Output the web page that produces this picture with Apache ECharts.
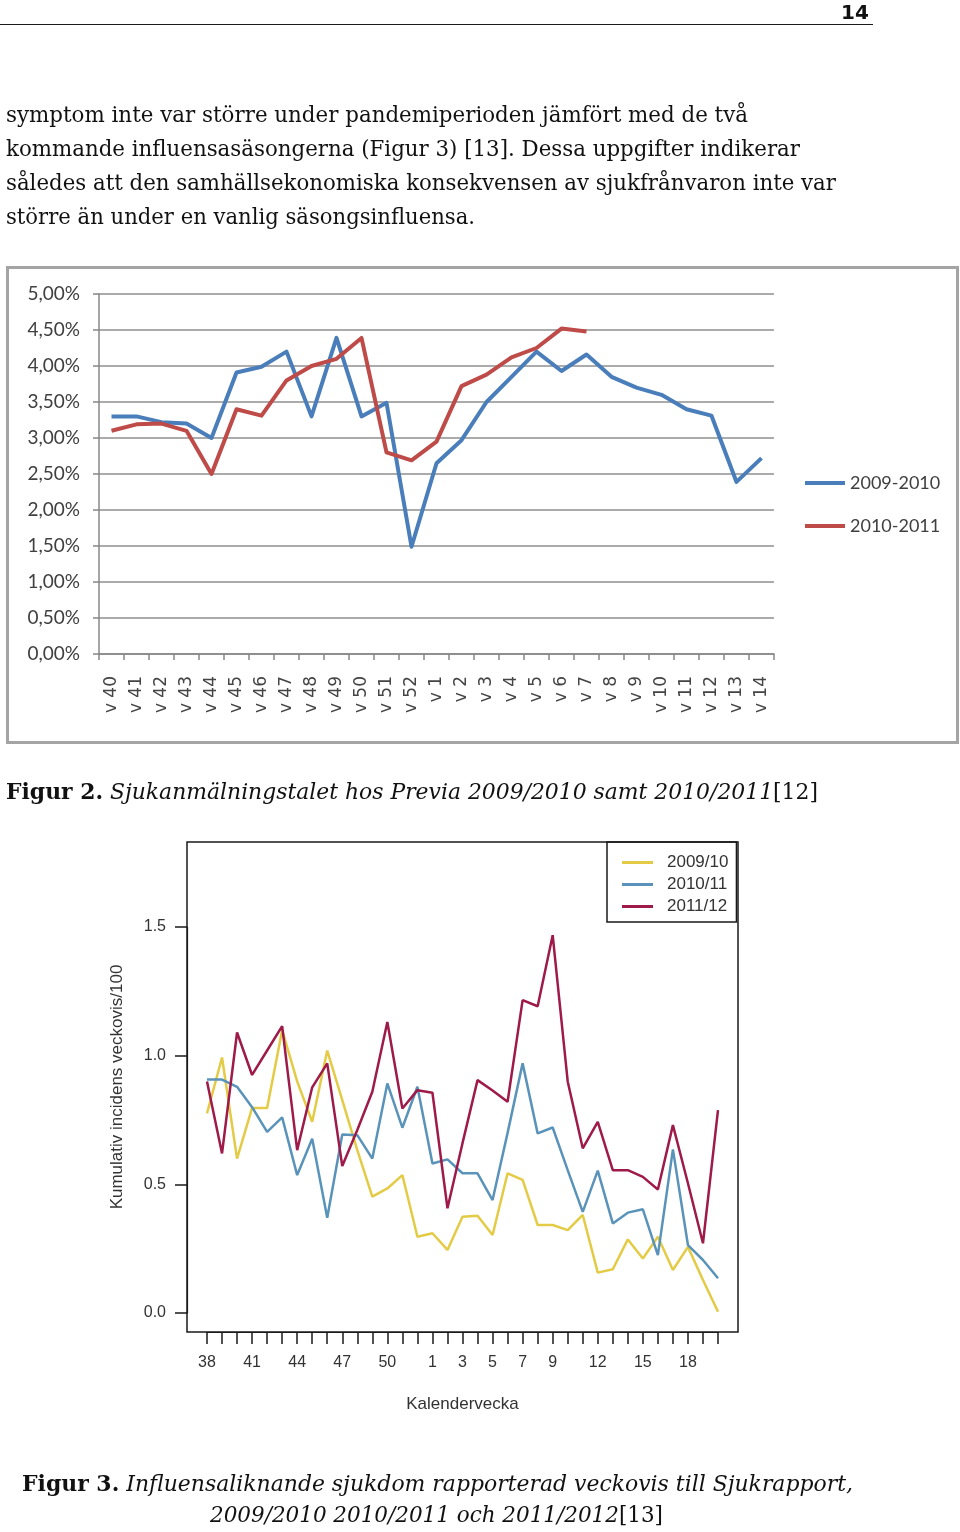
<!DOCTYPE html>
<html>
<head>
<meta charset="utf-8">
<script src="https://cdn.jsdelivr.net/npm/echarts@6/dist/echarts.min.js"></script>
<style>
html,body{margin:0;padding:0;background:#fff;}
#page{position:relative;width:960px;height:1532px;overflow:hidden;background:#fff;}
#chart{position:absolute;left:0;top:0;width:960px;height:1532px;}
.t{position:absolute;white-space:nowrap;font-family:"DejaVu Serif",serif;color:#111;font-size:22px;line-height:34px;}
</style>
</head>
<body>
<div id="page">
  <div id="chart"></div>
  <div style="position:absolute;left:0;top:24px;width:873px;border-top:1.6px solid #1a1a1a;"></div>
  <div class="t" style="left:841px;top:0px;font-family:'DejaVu Sans',sans-serif;font-weight:bold;font-size:20px;line-height:24px;">14</div>

  <div class="t" data-w="742" style="left:6px;top:98px;">symptom inte var större under pandemiperioden jämfört med de två</div>
  <div class="t" data-w="794" style="left:6px;top:132px;">kommande influensasäsongerna (Figur 3) [13]. Dessa uppgifter indikerar</div>
  <div class="t" data-w="830" style="left:6px;top:166px;">således att den samhällsekonomiska konsekvensen av sjukfrånvaron inte var</div>
  <div class="t" data-w="469" style="left:6px;top:200px;">större än under en vanlig säsongsinfluensa.</div>

  <div class="t" data-w="812" style="left:6px;top:774px;"><b>Figur 2.</b> <i>Sjukanmälningstalet hos Previa 2009/2010 samt 2010/2011</i>[12]</div>

  <div class="t" data-w="831" style="left:22px;top:1466px;"><b>Figur 3.</b> <i>Influensaliknande sjukdom rapporterad veckovis till Sjukrapport,</i></div>
  <div class="t" data-w="453" style="left:210px;top:1498px;"><i>2009/2010 2010/2011 och 2011/2012</i>[13]</div>
</div>
<script>
// ---------- Figur 2: sick-leave rate (Previa) ----------
const weeksTop = ['v 40','v 41','v 42','v 43','v 44','v 45','v 46','v 47','v 48','v 49','v 50','v 51','v 52',
  'v 1','v 2','v 3','v 4','v 5','v 6','v 7','v 8','v 9','v 10','v 11','v 12','v 13','v 14'];
const sick2009_2010 = [3.3,3.3,3.22,3.2,3.0,3.91,3.99,4.2,3.3,4.39,3.3,3.49,1.49,
  2.65,2.97,3.5,3.85,4.2,3.93,4.16,3.85,3.7,3.6,3.4,3.31,2.39,2.72];
const sick2010_2011 = [3.1,3.19,3.2,3.1,2.5,3.4,3.31,3.8,4.0,4.1,4.39,2.8,2.69,
  2.95,3.72,3.88,4.12,4.25,4.52,4.48,null,null,null,null,null,null,null];
const namesTop = ['2009-2010','2010-2011'];

// ---------- Figur 3: ILI incidence (Sjukrapport) ----------
const weeksBottom = ['38','39','40','41','42','43','44','45','46','47','48','49','50','51','52',
  '1','2','3','4','5','6','7','8','9','10','11','12','13','14','15','16','17','18','19','20'];
const shownWeekLabels = ['38','41','44','47','50','1','3','5','7','9','12','15','18'];
const ili2009_10 = [0.776,0.993,0.60,0.797,0.797,1.099,0.90,0.743,1.02,0.827,0.633,0.452,0.484,0.536,0.296,
  0.31,0.245,0.374,0.378,0.303,0.543,0.517,0.342,0.342,0.322,0.381,0.157,0.17,0.286,0.212,0.296,0.167,0.257,0.128,0.005];
const ili2010_11 = [0.907,0.907,0.879,0.80,0.704,0.76,0.536,0.677,0.37,0.694,0.691,0.60,0.892,0.72,0.879,
  0.581,0.597,0.543,0.543,0.439,0.70,0.97,0.698,0.721,0.555,0.393,0.553,0.348,0.39,0.403,0.225,0.636,0.264,0.206,0.135];
const ili2011_12 = [0.90,0.62,1.09,0.925,1.02,1.115,0.633,0.877,0.97,0.571,0.711,0.86,1.131,0.795,0.866,
  0.856,0.407,0.66,0.905,0.865,0.821,1.216,1.192,1.468,0.90,0.64,0.743,0.555,0.555,0.529,0.48,0.73,0.504,0.271,0.788];
const namesBottom = ['2009/10','2010/11','2011/12'];

// fit text lines to reference widths
document.querySelectorAll('[data-w]').forEach(el => {
  const w = el.getBoundingClientRect().width;
  el.style.transformOrigin = '0 50%';
  el.style.transform = 'scaleX(' + (+el.dataset.w / w) + ')';
});

const chart = echarts.init(document.getElementById('chart'), null, {renderer:'canvas'});
const gray = '#878787';
const dark = '#1a1a1a';
const sansR = 'Liberation Sans';
const option = {
  animation: false,
  backgroundColor: 'transparent',
  graphic: [{
    type: 'rect', z: -10,
    shape: {x: 7.5, y: 267.5, width: 950, height: 475},
    style: {fill: '#fff', stroke: '#a4a4a4', lineWidth: 3}
  }],
  grid: [
    // 0: Figur 2 plot
    {left: 99, top: 294, width: 675, height: 360},
    // 1: Figur 3 frame box
    {left: 187, top: 842, width: 551, height: 490, show: true, borderColor: dark, borderWidth: 1.5, backgroundColor: 'transparent'},
    // 2: Figur 3 data area (y from 0 to 1.5)
    {left: 207, top: 927, width: 511, height: 386},
    // 3: Figur 3 week-axis band (same x span, bottom at frame)
    {left: 207, top: 842, width: 511, height: 490}
  ],
  legend: [
    {
      data: namesTop, orient: 'vertical', left: 805, top: 473,
      itemWidth: 40, itemHeight: 4, icon: 'rect', itemGap: 23, padding: 0,
      textStyle: {fontFamily: 'Lato', fontSize: 18, lineHeight: 20, color: '#404040'}
    },
    {
      data: namesBottom, orient: 'vertical', left: 607, top: 842,
      padding: [12, 8, 7, 15], borderColor: dark, borderWidth: 1.5,
      itemWidth: 31, itemHeight: 3, icon: 'rect', itemGap: 5,
      textStyle: {fontFamily: sansR, fontSize: 17, lineHeight: 16, color: '#333', padding: [0, 0, 0, 9]}
    }
  ],
  xAxis: [
    {
      gridIndex: 0, type: 'category', data: weeksTop, boundaryGap: true,
      axisLine: {lineStyle: {color: gray, width: 1.5}},
      axisTick: {show: true, inside: false, length: 6, interval: 0, lineStyle: {color: gray, width: 1.5}},
      axisLabel: {interval: 0, rotate: 90, margin: 22, fontFamily: 'DejaVu Sans', fontSize: 17, color: '#444'},
      splitLine: {show: false}
    },
    {
      gridIndex: 1, type: 'value', min: 0, max: 1,
      axisLine: {show: false}, axisTick: {show: false}, axisLabel: {show: false}, splitLine: {show: false},
      name: 'Kalendervecka', nameLocation: 'middle', nameGap: 64,
      nameTextStyle: {fontFamily: sansR, fontSize: 17, color: '#333'}
    },
    {gridIndex: 2, type: 'category', data: weeksBottom, boundaryGap: false, show: false},
    {
      gridIndex: 3, type: 'category', data: weeksBottom, boundaryGap: false, position: 'bottom',
      axisLine: {show: true, lineStyle: {color: dark, width: 1.2}},
      axisTick: {show: true, inside: false, length: 12, interval: 0, lineStyle: {color: dark, width: 1.5}},
      axisLabel: {interval: (i, v) => shownWeekLabels.includes(v), margin: 23, fontFamily: sansR, fontSize: 16, color: '#333'},
      splitLine: {show: false}
    }
  ],
  yAxis: [
    {
      gridIndex: 0, type: 'value', min: 0, max: 5, interval: 0.5,
      axisLine: {show: true, lineStyle: {color: gray, width: 1.5}},
      axisTick: {show: true, length: 6, lineStyle: {color: gray, width: 1.5}},
      splitLine: {show: true, lineStyle: {color: '#8f8f8f', width: 1.5}},
      axisLabel: {formatter: v => v.toFixed(2).replace('.', ',') + '%', margin: 19, fontFamily: 'Lato', fontSize: 19, color: '#404040'}
    },
    {
      gridIndex: 1, type: 'value', min: 0, max: 1,
      axisLine: {show: false}, axisTick: {show: false}, axisLabel: {show: false}, splitLine: {show: false},
      name: 'Kumulativ incidens veckovis/100', nameLocation: 'middle', nameGap: 61, nameRotate: 90,
      nameTextStyle: {fontFamily: sansR, fontSize: 17, color: '#333'}
    },
    {
      gridIndex: 2, type: 'value', min: 0, max: 1.5, interval: 0.5, offset: 20,
      axisLine: {show: true, lineStyle: {color: dark, width: 1.2}},
      axisTick: {show: true, inside: false, length: 12, lineStyle: {color: dark, width: 1.5}},
      splitLine: {show: false},
      axisLabel: {formatter: v => v.toFixed(1), margin: 21, fontFamily: sansR, fontSize: 16, color: '#333'}
    },
    {gridIndex: 3, type: 'value', show: false, min: 0, max: 1}
  ],
  series: [
    {name: namesTop[0], type: 'line', xAxisIndex: 0, yAxisIndex: 0, data: sick2009_2010, symbol: 'none',
      lineStyle: {width: 4, color: '#4A7EBB', join: 'round'}, itemStyle: {color: '#4A7EBB'}},
    {name: namesTop[1], type: 'line', xAxisIndex: 0, yAxisIndex: 0, data: sick2010_2011, symbol: 'none',
      lineStyle: {width: 4, color: '#BE4B48', join: 'round'}, itemStyle: {color: '#BE4B48'}},
    {name: namesBottom[0], type: 'line', xAxisIndex: 2, yAxisIndex: 2, data: ili2009_10, symbol: 'none', clip: false,
      lineStyle: {width: 2.5, color: '#E3CB45'}, itemStyle: {color: '#E3CB45'}},
    {name: namesBottom[1], type: 'line', xAxisIndex: 2, yAxisIndex: 2, data: ili2010_11, symbol: 'none', clip: false,
      lineStyle: {width: 2.5, color: '#5A93BA'}, itemStyle: {color: '#5A93BA'}},
    {name: namesBottom[2], type: 'line', xAxisIndex: 2, yAxisIndex: 2, data: ili2011_12, symbol: 'none', clip: false,
      lineStyle: {width: 2.5, color: '#9E1A48'}, itemStyle: {color: '#9E1A48'}}
  ]
};
chart.setOption(option);
</script>
</body>
</html>
